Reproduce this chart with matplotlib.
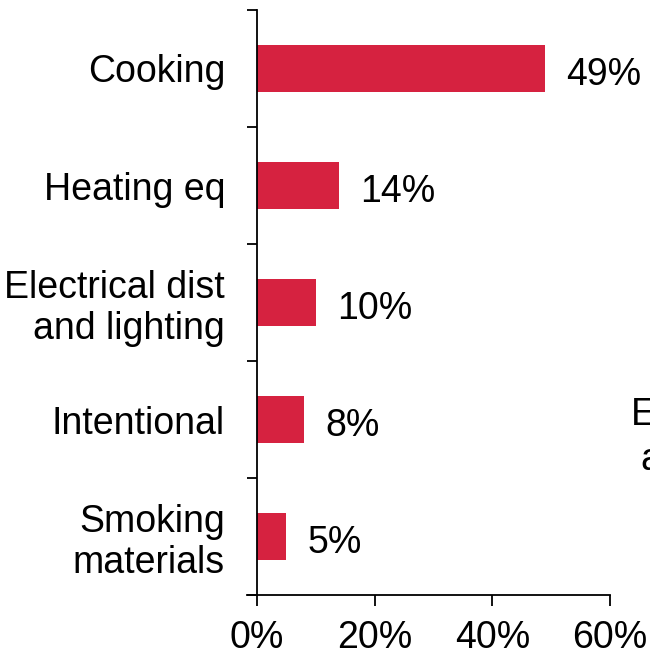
import numpy as np
import matplotlib.pyplot as plt

plt.rcParams['font.family'] = ['Liberation Sans', 'DejaVu Sans']

# Data
causes = ["Cooking", "Heating eq", "Electrical dist\nand lighting", "Intentional", "Smoking\nmaterials"]
shares = [49, 14, 10, 8, 5]
xticks = [0, 20, 40, 60]

bar_color = "#D62240"
fs = 27

fig = plt.figure(figsize=(6.5, 6.54), dpi=100)
ax = fig.add_axes([257/650, 1 - 595/654, 353/650, 585/654])

pos = np.arange(len(causes))[::-1]
ax.barh(pos, shares, height=0.4, color=bar_color)

# value labels
for p, v in zip(pos, shares):
    ax.annotate(f"{v}%", xy=(v, p), xytext=(15, -5), textcoords="offset points",
                va="center", ha="left", fontsize=fs)

ax.set_xlim(0, 60)
ax.set_ylim(-0.5, len(causes) - 0.5)
ax.set_xticks(xticks)
ax.set_xticklabels([f"{t}%" for t in xticks], fontsize=fs)

# boundary ticks on the y axis, labels at category centers
ax.set_yticks(np.arange(-0.5, len(causes), 1.0))
ax.set_yticklabels([])
ax.set_yticks(pos, minor=True)
ax.set_yticklabels(causes, minor=True, fontsize=fs, linespacing=1.15)
ax.tick_params(axis="y", which="minor", length=0, pad=23)
ax.tick_params(axis="y", which="major", length=7.2, width=1.3, direction="out")
ax.tick_params(axis="x", length=8, width=1.3, direction="out", pad=10)

for side in ["top", "right"]:
    ax.spines[side].set_visible(False)
for side in ["left", "bottom"]:
    ax.spines[side].set_linewidth(1.3)
ax.spines["bottom"].set_bounds(-1.7, 60)

# text of a neighbouring panel, cut by the figure edge
fig.text(631/650, 1 - 415/654, "Excluding", fontsize=fs, va="center", ha="left")
fig.text(640/650, 1 - 460/654, "all", fontsize=fs, va="center", ha="left")

fig.savefig("out.png", dpi=100)
